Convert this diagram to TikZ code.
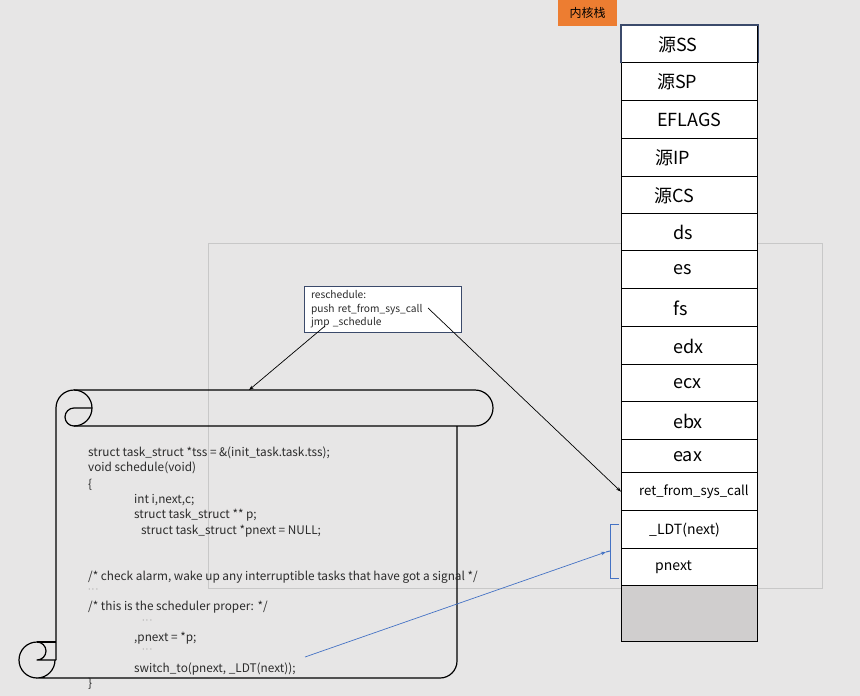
\documentclass[tikz,border=0pt]{standalone}
\usepackage{fontspec}
\setmainfont{Noto Sans CJK SC}
\usetikzlibrary{arrows.meta}
\definecolor{canvas}{HTML}{E7E6E6}
\definecolor{framegray}{HTML}{C8C8C8}
\definecolor{accent}{HTML}{ED7D31}
\definecolor{linkblue}{HTML}{4472C4}
\definecolor{boxnavy}{HTML}{3B4A6B}
\definecolor{codegray}{HTML}{2B2B2B}
\definecolor{spare}{HTML}{D0CECE}
\newcommand{\elide}{{\fontsize{8}{8}\selectfont$\cdots$}}
\tikzset{
  cellbox/.style={draw=black, line width=1.3pt, fill=white, anchor=north west,
    minimum width=136pt, inner sep=0pt},
  celltext/.style={anchor=west, inner sep=0pt, text=black},
  codeline/.style={anchor=west, inner sep=0pt, text=codegray, font=\fontsize{11.8}{13}\selectfont},
  scrollline/.style={line width=1.2pt, line join=round},
  ptr/.style={line width=0.7pt, -{Stealth[length=5pt,width=3.5pt]}},
}
\begin{document}
\begin{tikzpicture}[x=1pt,y=-1pt]
\useasboundingbox[fill=canvas] (0,0) rectangle (860,696);

% thin frame behind everything
\draw[framegray, line width=1pt] (208,243) rectangle (822,588);

% stack title tab
\node[fill=accent, minimum width=59pt, minimum height=26pt, inner sep=0pt,
      font=\fontsize{12}{14}\selectfont] (title) at (587.5,13) {内核栈};

% kernel stack cells: name/top/bottom/text x/label/size
\foreach \nm/\ta/\tb/\tx/\lab/\fs in {
  ss/25/62/658/源SS/18, sp/62/100/657/源SP/18, flags/100/138/657/EFLAGS/18,
  ip/138/176/655/源IP/18, cs/176/213/654/源CS/18, ds/213/250/673/ds/18,
  es/250/288/673/es/18, fs/288/326/673/fs/18, edx/326/364/673/edx/18,
  ecx/364/401/673/ecx/18, ebx/401/439/673/ebx/18, eax/439/472/673/eax/18,
  ret/472/510/639/ret\_from\_sys\_call/13.2, ldt/510/548/649/\_LDT(next)/14,
  pnext/548/585/655/pnext/14}
{
  \pgfmathsetmacro{\hh}{\tb-\ta}
  \node[cellbox, minimum height=\hh pt] (\nm) at (621,\ta) {};
  \node[celltext, font=\fontsize{\fs}{\fs}\selectfont] (\nm-t) at (\tx,{(\ta+\tb)/2+1}) {\lab};
}
\draw[boxnavy, line width=1.1pt] (ss.south west) |- (ss.north east) -- (ss.south east);
\node[cellbox, fill=spare, minimum height=56pt] (free) at (621,585) {};

% scroll outline
\draw[scrollline] (56,660) -- (56,408) arc(180:450:18) arc(90:270:9) -- (92,408);
\draw[scrollline] (74,390) -- (475,390) arc(270:450:18) -- (74,426);
\draw[scrollline] (457,426) -- (457,661) arc(0:90:17) -- (37,678) arc(90:0:18);
\draw[scrollline] (37,642) arc(270:90:18);
\draw[scrollline] (37,642) arc(270:450:9) -- (56,660);
\draw[scrollline] (37,642) -- (56,642);
\coordinate (scrolltop) at (249,390);

% source listing
\node[codeline] (c1) at (88,453) {struct task\_struct *tss = \&(init\_task.task.tss);};
\node[codeline] (c2) at (88,468) {void schedule(void)};
\node[codeline] (c3) at (88,485) {\{};
\node[codeline] (c4) at (134,500) {int i,next,c;};
\node[codeline] (c5) at (134,515) {struct task\_struct ** p;};
\node[codeline] (c6) at (141,531) {struct task\_struct *pnext = NULL;};
\node[codeline] (c7) at (88,577) {/* check alarm, wake up any interruptible tasks that have got a signal */};
\node[codeline] (c8) at (88,590) {\elide};
\node[codeline] (c9) at (88,607) {/* this is the scheduler proper: */};
\node[codeline] (c10) at (142,621) {\elide};
\node[codeline] (c11) at (134,638) {,pnext = *p;};
\node[codeline] (c12) at (142,650) {\elide};
\node[codeline] (c13) at (134,669) {switch\_to(pnext, \_LDT(next));};
\node[codeline] (c14) at (88,684) {\}};
\coordinate (callsite) at (305,657);

% reschedule snippet
\node[draw=boxnavy, line width=0.9pt, fill=white, minimum width=157pt, minimum height=46pt,
      text width=143pt, inner xsep=7pt, align=left, text=codegray,
      font=\fontsize{10.2}{13.5}\selectfont] (resched) at (382.5,309.5)
  {reschedule:\\push ret\_from\_sys\_call\\jmp \_schedule};
\coordinate (jmpline) at (325,326);
\coordinate (pushline) at (428,308);

% brace grouping the two switch_to arguments
\draw[linkblue, line width=1pt] (619,524) -- (610,524) -- (610,578) -- (619,578);
\draw[linkblue, line width=1pt] (610,551) -- (606,552);
\coordinate (bracetip) at (606,552);

% connectors
\draw[ptr] (jmpline) -- (scrolltop);
\draw[ptr] (pushline) -- (ret.west);
\draw[ptr, linkblue] (callsite) -- (bracetip);
\end{tikzpicture}
\end{document}
